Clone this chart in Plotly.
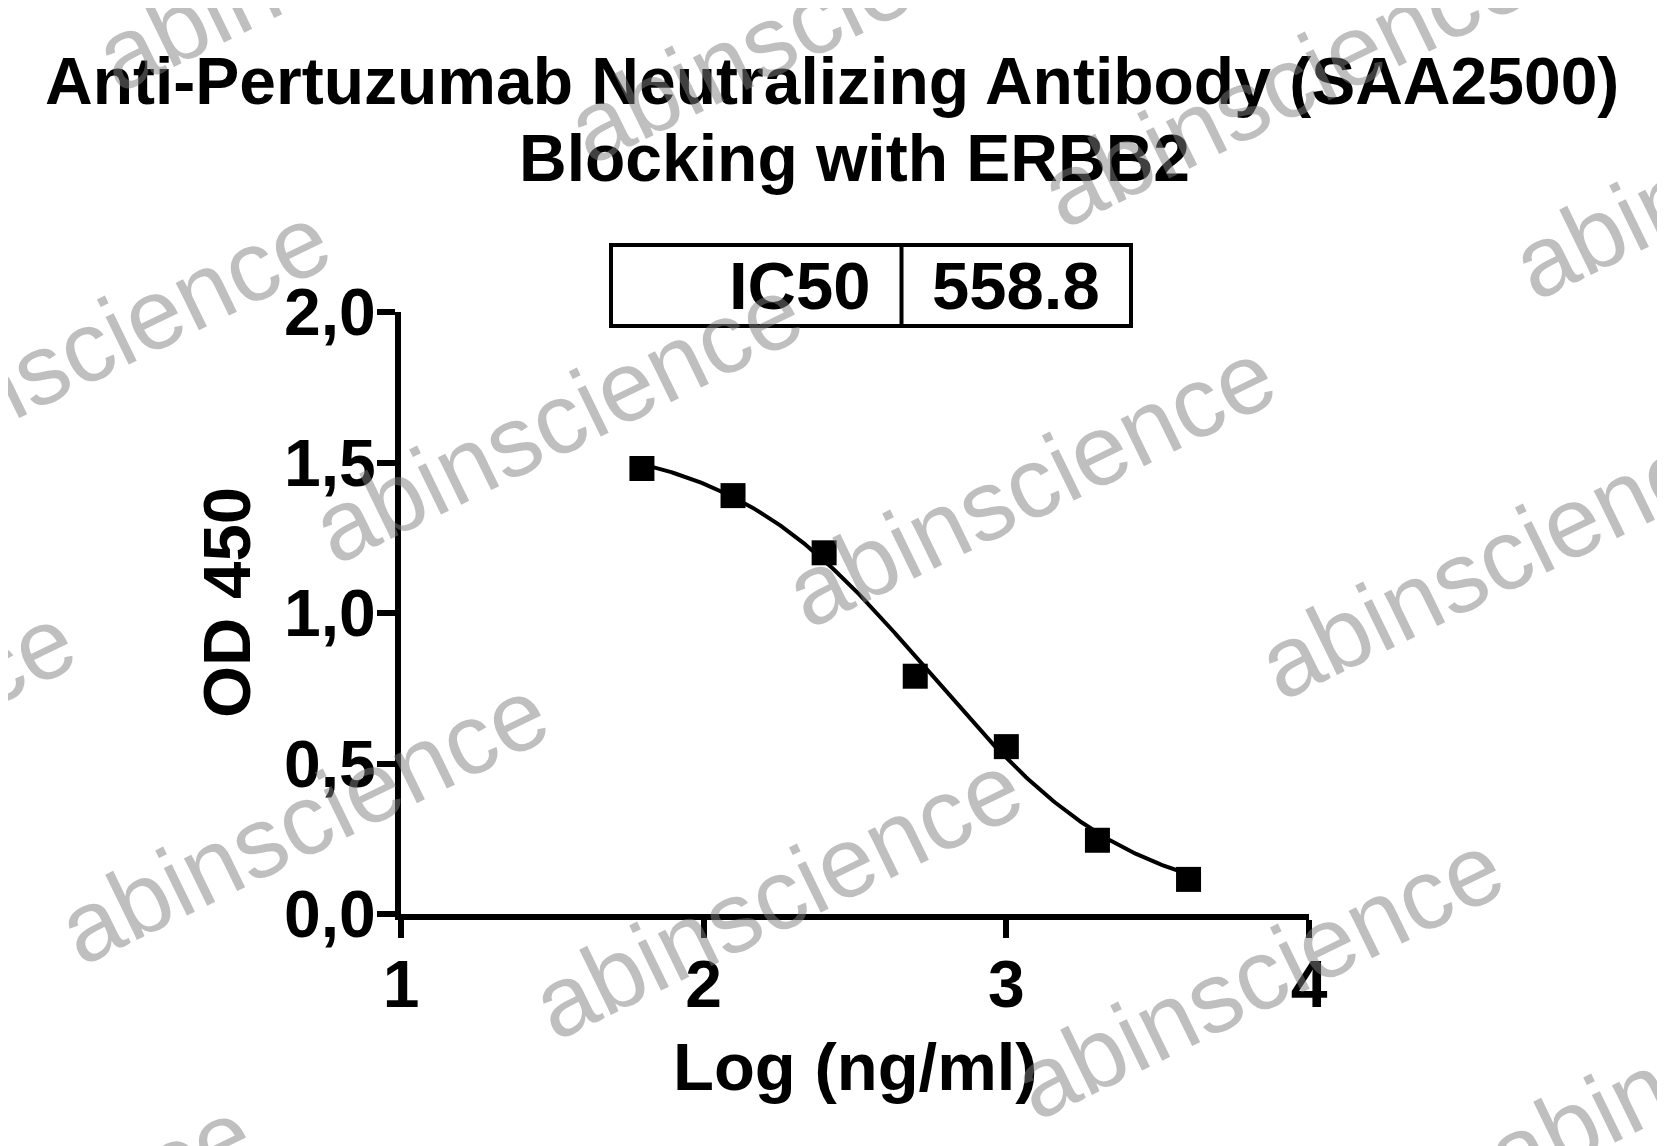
import numpy as np
import plotly.graph_objects as go

# ---------------- data ----------------
log_conc = [1.796, 2.097, 2.398, 2.699, 3.0, 3.301, 3.602]
od450 = [1.48, 1.39, 1.20, 0.79, 0.556, 0.245, 0.115]

ic50 = 558.8
fit_top = 1.58
fit_bottom = 0.02
fit_hill = -1.3

x_ticks = [1, 2, 3, 4]
x_ticktext = ["1", "2", "3", "4"]
y_ticks = [0, 0.5, 1.0, 1.5, 2.0]
y_ticktext = ["0,0", "0,5", "1,0", "1,5", "2,0"]

title_lines = ["Anti-Pertuzumab Neutralizing Antibody (SAA2500)", "Blocking with ERBB2"]
x_title = "Log (ng/ml)"
y_title = "OD 450"
ic50_label = "IC50"
ic50_text = "558.8"
watermark = "abinscience"

# ---------------- layout geometry (page pixels) ----------------
OFF = 8                      # default body margin of the html page
W, H = 1665 - OFF, 1146 - OFF
# plot area in page pixels
L, R, T, B = 401, 1309, 312, 914
FONT = "Liberation Sans, Arial, sans-serif"


def px(x):
    return (x - L) / (R - L)


def py(y):
    return (B - y) / (B - T)


# fitted 4PL curve
xf = np.linspace(min(log_conc), max(log_conc), 300)
yf = fit_bottom + (fit_top - fit_bottom) / (1 + 10 ** ((np.log10(ic50) - xf) * fit_hill))

fig = go.Figure()
fig.add_trace(go.Scatter(x=xf, y=yf, mode="lines",
                         line=dict(color="black", width=4), hoverinfo="skip",
                         showlegend=False))
fig.add_trace(go.Scatter(x=log_conc, y=od450, mode="markers",
                         marker=dict(symbol="square", size=25, color="black"),
                         showlegend=False))

BIG = 67
annotations = []
# titles
annotations.append(dict(text=title_lines[0], x=px(832), y=py(81), xref="paper", yref="paper",
                        xanchor="center", yanchor="middle", showarrow=False,
                        font=dict(family=FONT, size=66, color="black", weight="bold")))
annotations.append(dict(text=title_lines[1], x=px(854), y=py(158), xref="paper", yref="paper",
                        xanchor="center", yanchor="middle", showarrow=False,
                        font=dict(family=FONT, size=66, color="black", weight="bold")))
# axis titles
annotations.append(dict(text=x_title, x=px(855), y=py(1066), xref="paper", yref="paper",
                        xanchor="center", yanchor="middle", showarrow=False,
                        font=dict(family=FONT, size=BIG, color="black", weight="bold")))
annotations.append(dict(text=y_title, x=px(226), y=py(603), xref="paper", yref="paper",
                        xanchor="center", yanchor="middle", showarrow=False, textangle=-90,
                        font=dict(family=FONT, size=BIG, color="black", weight="bold")))
# IC50 box texts
annotations.append(dict(text=ic50_label, x=px(873), y=py(285), xref="paper", yref="paper",
                        xanchor="right", yanchor="middle", showarrow=False,
                        font=dict(family=FONT, size=BIG, color="black", weight="bold")))
annotations.append(dict(text=ic50_text, x=px(930), y=py(285), xref="paper", yref="paper",
                        xanchor="left", yanchor="middle", showarrow=False,
                        font=dict(family=FONT, size=BIG, color="black", weight="bold")))

# watermarks (page pixel centres)
wm_centers = [(340, -53), (812, 19), (1285, 83), (1757, 155),
              (85, 347), (557, 419), (1030, 483), (1503, 555),
              (-170, 748), (303, 820), (777, 895), (1258, 975), (1731, 1047),
              (8, 1242)]
for cx, cy in wm_centers:
    annotations.append(dict(text=watermark, x=px(cx), y=py(cy), xref="paper", yref="paper",
                            xanchor="center", yanchor="middle", showarrow=False, textangle=-26,
                            font=dict(family=FONT, size=100, color="rgba(128,128,128,0.5)")))

shapes = [
    dict(type="rect", xref="paper", yref="paper", x0=px(611), x1=px(1131), y0=py(245), y1=py(326),
         line=dict(color="black", width=4), fillcolor="rgba(0,0,0,0)"),
    dict(type="line", xref="paper", yref="paper", x0=px(901.5), x1=px(901.5), y0=py(245), y1=py(326),
         line=dict(color="black", width=4)),
]

fig.update_layout(
    width=W, height=H,
    margin=dict(l=L - OFF, r=1665 - R, t=T - OFF, b=1146 - B, pad=0),
    paper_bgcolor="white", plot_bgcolor="white",
    annotations=annotations, shapes=shapes,
    showlegend=False,
)
fig.update_xaxes(range=[1, 4], tickvals=x_ticks, ticktext=x_ticktext,
                 showline=True, linecolor="black", linewidth=6,
                 ticks="outside", ticklen=18, tickwidth=6, tickcolor="black",
                 ticklabelstandoff=-10,
                 showgrid=False, zeroline=False,
                 tickfont=dict(family=FONT, size=66, color="black", weight="bold"))
fig.update_yaxes(range=[0, 2], tickvals=y_ticks, ticktext=y_ticktext,
                 showline=True, linecolor="black", linewidth=6,
                 ticks="outside", ticklen=18, tickwidth=6, tickcolor="black",
                 ticklabelstandoff=-12,
                 showgrid=False, zeroline=False,
                 tickfont=dict(family=FONT, size=66, color="black", weight="bold"))

fig.write_html("out.html")
